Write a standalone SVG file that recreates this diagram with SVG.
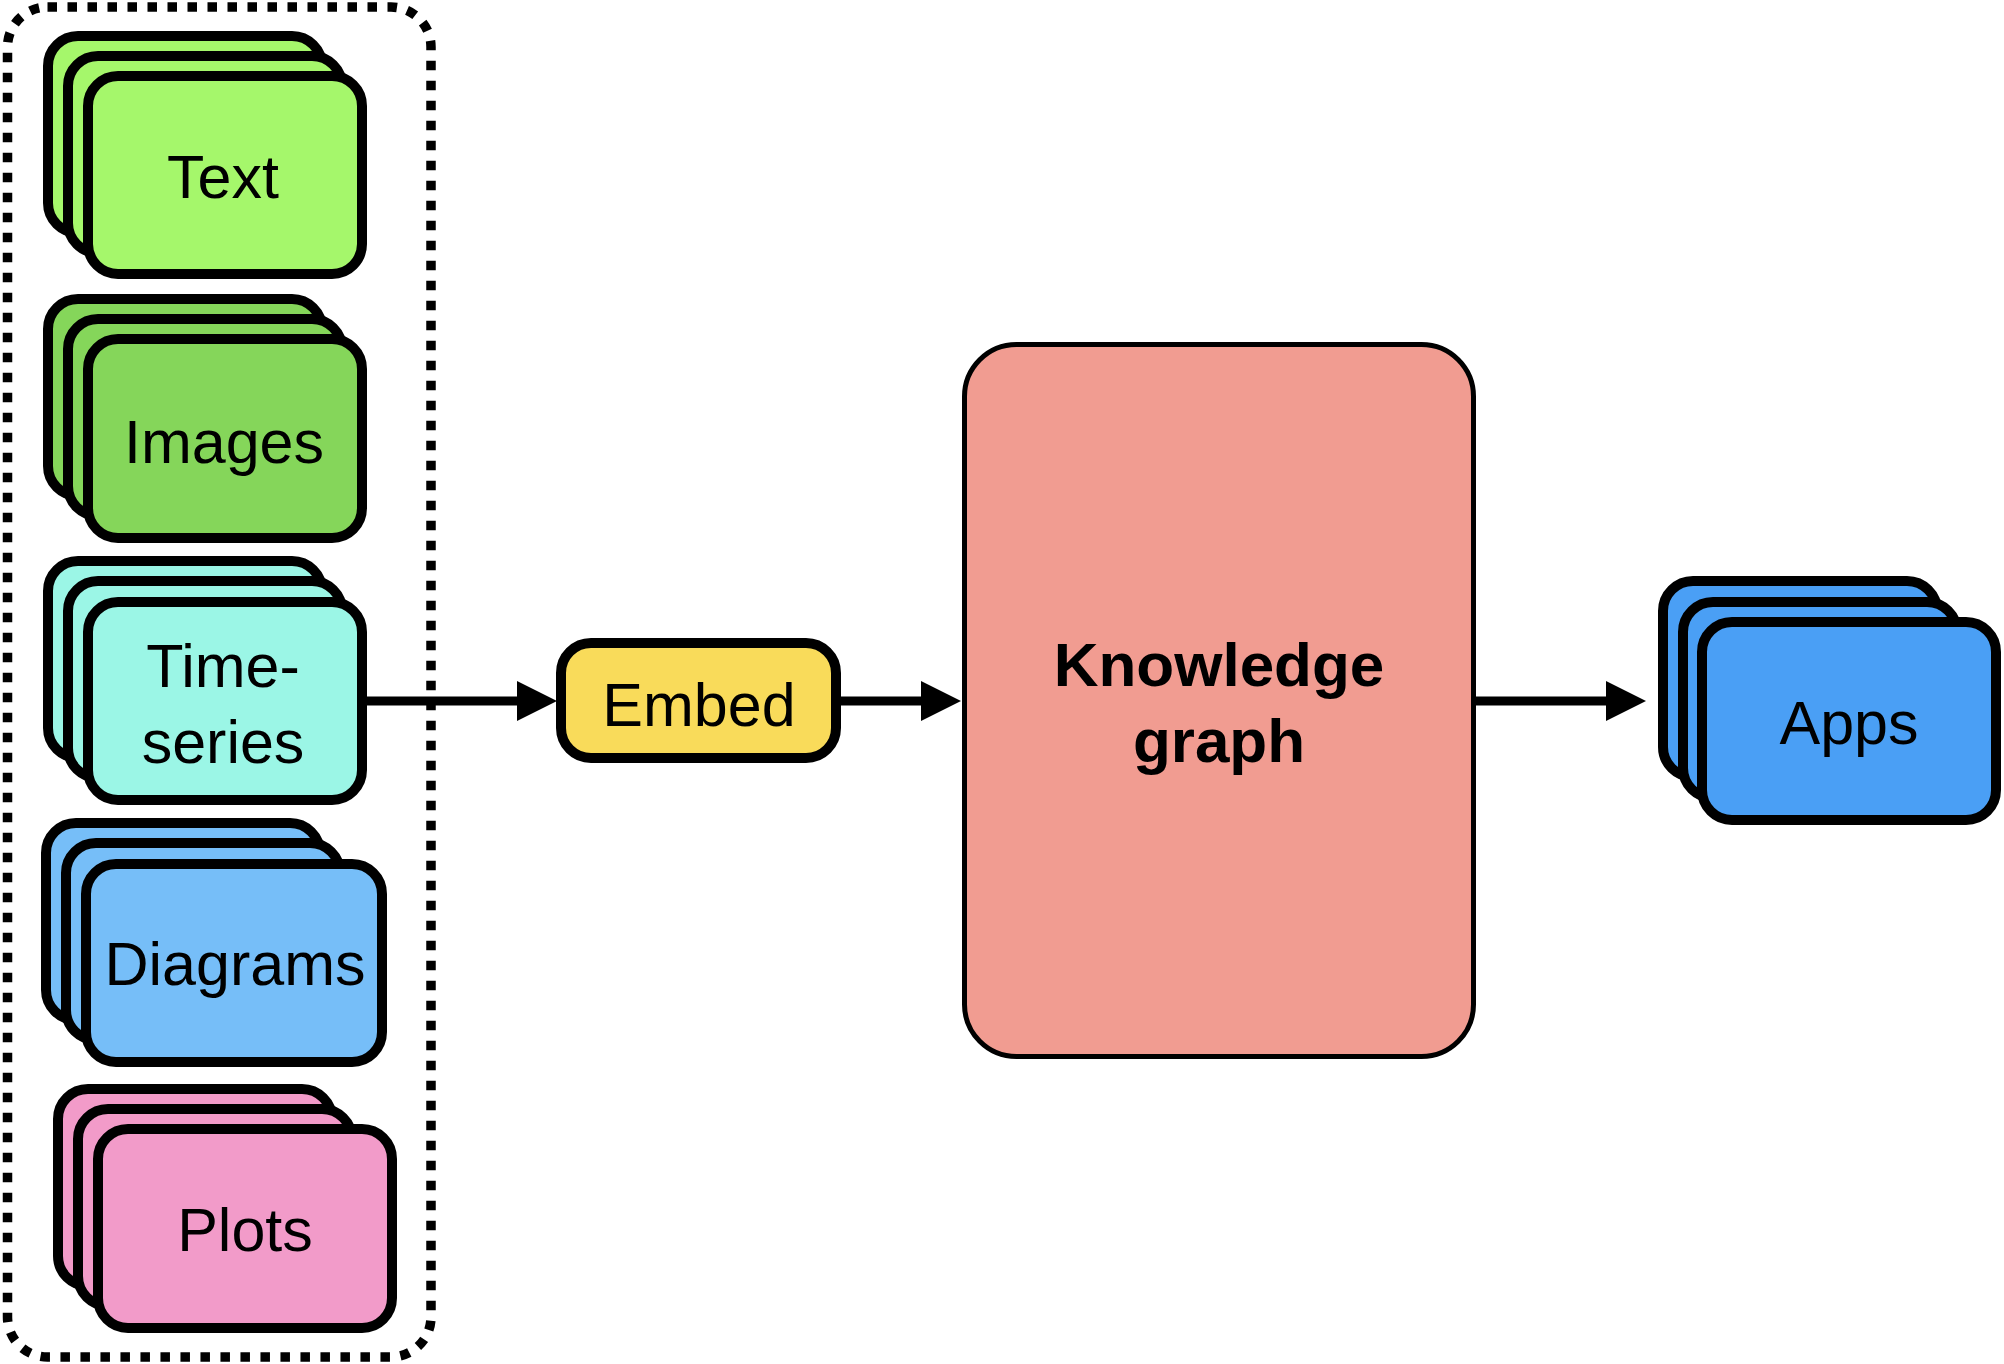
<svg xmlns="http://www.w3.org/2000/svg" width="2004" height="1364" viewBox="0 0 2004 1364">
<style>
.card{stroke:#000;stroke-width:10}
.lbl{font-family:"Liberation Sans",Arial,Helvetica,sans-serif;font-size:61px;fill:#000;text-anchor:middle}
.bold{font-weight:bold;font-size:62px}
.conn{stroke:#000;stroke-width:9;fill:none}
</style>
<defs>
<marker id="ah" markerUnits="userSpaceOnUse" markerWidth="40" markerHeight="40" refX="0" refY="20" orient="auto" viewBox="0 0 40 40">
<path d="M0,0 L40,20 L0,40 Z" fill="#000"/>
</marker>
</defs>
<rect id="container" x="7.5" y="7" width="423.5" height="1350" rx="40" fill="#fff" stroke="#000" stroke-width="9.5" stroke-dasharray="9.5 10.5"/>
<g id="text">
<rect class="card" x="48" y="36" width="274" height="197" rx="30" fill="#A5F76B"/>
<rect class="card" x="68" y="56" width="274" height="197" rx="30" fill="#A5F76B"/>
<rect class="card" x="88" y="76" width="274" height="198" rx="30" fill="#A5F76B"/>
<text class="lbl" x="223" y="198">Text</text>
</g>
<g id="images">
<rect class="card" x="48" y="299" width="274" height="197" rx="30" fill="#85D65A"/>
<rect class="card" x="68" y="319" width="274" height="197" rx="30" fill="#85D65A"/>
<rect class="card" x="88" y="339" width="274" height="199" rx="30" fill="#85D65A"/>
<text class="lbl" x="224" y="463">Images</text>
</g>
<g id="timeseries">
<rect class="card" x="48" y="561" width="274" height="197" rx="30" fill="#9BF6E6"/>
<rect class="card" x="68" y="581" width="274" height="197" rx="30" fill="#9BF6E6"/>
<rect class="card" x="88" y="602" width="274" height="198" rx="30" fill="#9BF6E6"/>
<text class="lbl" x="223" y="687">Time-</text>
<text class="lbl" x="223" y="763">series</text>
</g>
<g id="diagrams">
<rect class="card" x="46" y="823" width="274" height="197" rx="30" fill="#76BEF8"/>
<rect class="card" x="66" y="843" width="274" height="197" rx="30" fill="#76BEF8"/>
<rect class="card" x="86" y="864" width="296" height="198" rx="30" fill="#76BEF8"/>
<text class="lbl" x="235" y="985">Diagrams</text>
</g>
<g id="plots">
<rect class="card" x="58" y="1089" width="274" height="197" rx="30" fill="#F29BC9"/>
<rect class="card" x="78" y="1109" width="274" height="197" rx="30" fill="#F29BC9"/>
<rect class="card" x="98" y="1129" width="294" height="199" rx="30" fill="#F29BC9"/>
<text class="lbl" x="245" y="1251">Plots</text>
</g>
<g id="embed">
<rect class="card" x="561" y="643" width="275" height="115" rx="30" fill="#F9DB5A"/>
<text class="lbl" x="699" y="726">Embed</text>
</g>
<g id="knowledge-graph">
<rect x="964.5" y="344.5" width="509" height="712" rx="52" fill="#F19C91" stroke="#000" stroke-width="5"/>
<text class="lbl bold" x="1219" y="686">Knowledge</text>
<text class="lbl bold" x="1219" y="762">graph</text>
</g>
<g id="apps">
<rect class="card" x="1663" y="581" width="274" height="196" rx="30" fill="#4A9FF5"/>
<rect class="card" x="1683" y="602" width="274" height="196" rx="30" fill="#4A9FF5"/>
<rect class="card" x="1702" y="622" width="294" height="198" rx="30" fill="#4A9FF5"/>
<text class="lbl" x="1849" y="744">Apps</text>
</g>
<g id="connectors">
<path class="conn" d="M367,701 L517,701" marker-end="url(#ah)"/>
<path class="conn" d="M841,701 L921,701" marker-end="url(#ah)"/>
<path class="conn" d="M1476,701 L1606,701" marker-end="url(#ah)"/>
</g>
</svg>
